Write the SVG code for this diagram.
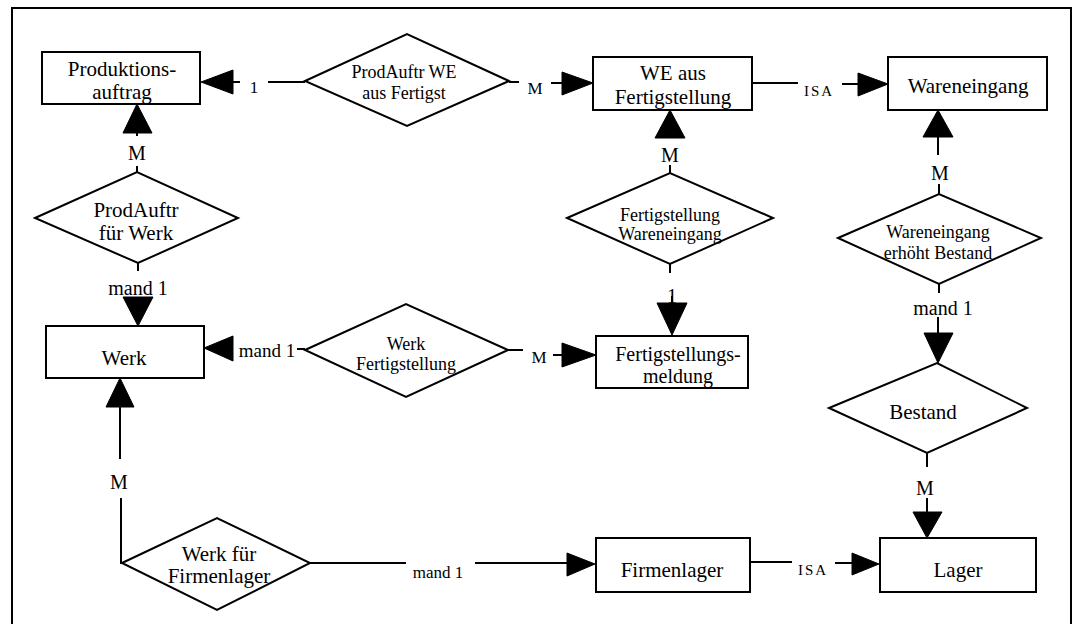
<svg xmlns="http://www.w3.org/2000/svg" width="1078" height="624" viewBox="0 0 1078 624" font-family="'Liberation Serif', serif">
  <style>
    .box { fill: #fff; stroke: #000; stroke-width: 2; }
    .rel { fill: #fff; stroke: #000; stroke-width: 2; }
    .ln { fill: none; stroke: #000; stroke-width: 2; }
    .ah { fill: #000; stroke: #000; stroke-width: 1; stroke-linejoin: miter; }
    text { font-family: 'Liberation Serif', serif; fill: #000; text-anchor: middle; }
    .en { font-size: 21px; }
    .rt { font-size: 18px; }
    .rb { font-size: 21px; }
    .card { font-size: 20px; }
    .cs { font-size: 17px; }
    .isa { font-size: 15px; letter-spacing: 2px; }
  </style>

  <rect x="12" y="8" width="1059" height="640" fill="#fff" stroke="#000" stroke-width="2"/>

  <g id="connectors">
    <!-- ProdAuftr WE aus Fertigst -> Produktionsauftrag (1) -->
    <line class="ln" x1="305" y1="82" x2="268" y2="82"/>
    <line class="ln" x1="240" y1="82" x2="232" y2="82"/>
    <polygon class="ah" points="201,82 233,70 233,94"/>
    <text class="cs" x="254" y="93">1</text>

    <!-- ProdAuftr WE aus Fertigst -> WE aus Fertigstellung (M) -->
    <line class="ln" x1="509" y1="82" x2="519" y2="82"/>
    <line class="ln" x1="551" y1="83" x2="563" y2="83"/>
    <polygon class="ah" points="593,83 562,72 562,95"/>
    <text class="cs" x="535" y="94">M</text>

    <!-- WE aus Fertigstellung ISA Wareneingang -->
    <line class="ln" x1="752" y1="83" x2="798" y2="83"/>
    <line class="ln" x1="842" y1="84" x2="859" y2="84"/>
    <polygon class="ah" points="888,84 858,73 858,96"/>
    <text class="isa" x="819" y="96">ISA</text>

    <!-- ProdAuftr fuer Werk -> Produktionsauftrag (M) -->
    <line class="ln" x1="137" y1="172" x2="137" y2="166"/>
    <line class="ln" x1="137" y1="136" x2="137" y2="132"/>
    <polygon class="ah" points="137,104 123,133 152,133"/>
    <text class="card" x="137" y="160">M</text>

    <!-- ProdAuftr fuer Werk -> Werk (mand 1) -->
    <line class="ln" x1="138" y1="263" x2="138" y2="271"/>
    <polygon class="ah" points="138,326 123,297 153,297"/>
    <text class="card" x="138" y="295">mand 1</text>

    <!-- Fertigstellung Wareneingang -> WE aus Fertigstellung (M) -->
    <line class="ln" x1="670" y1="173" x2="670" y2="165"/>
    <polygon class="ah" points="670,110 655,138 685,138"/>
    <text class="card" x="670" y="162">M</text>

    <!-- Fertigstellung Wareneingang -> Fertigstellungsmeldung (1) -->
    <line class="ln" x1="670" y1="264" x2="670" y2="273"/>
    <line class="ln" x1="672" y1="296" x2="672" y2="304"/>
    <polygon class="ah" points="672,335 657,303 687,303"/>
    <text class="card" x="672" y="303">1</text>

    <!-- Wareneingang erhoeht Bestand -> Wareneingang (M) -->
    <line class="ln" x1="939" y1="194" x2="939" y2="184"/>
    <line class="ln" x1="938" y1="155" x2="938" y2="136"/>
    <polygon class="ah" points="938,110 923,137 953,137"/>
    <text class="card" x="940" y="180">M</text>

    <!-- Wareneingang erhoeht Bestand -> Bestand (mand 1) -->
    <line class="ln" x1="939" y1="284" x2="939" y2="293"/>
    <line class="ln" x1="938" y1="317" x2="938" y2="334"/>
    <polygon class="ah" points="938,363 924,333 953,333"/>
    <text class="card" x="943" y="315">mand 1</text>

    <!-- Werk Fertigstellung -> Werk (mand 1) -->
    <line class="ln" x1="297" y1="349" x2="305" y2="349"/>
    <polygon class="ah" points="204,348 233,336 233,361"/>
    <text class="cs" x="267" y="357" style="font-size:19px">mand 1</text>

    <!-- Werk Fertigstellung -> Fertigstellungsmeldung (M) -->
    <line class="ln" x1="508" y1="350" x2="523" y2="350"/>
    <line class="ln" x1="553" y1="355" x2="564" y2="355"/>
    <polygon class="ah" points="596,355 562,343 562,367"/>
    <text class="cs" x="539" y="363">M</text>

    <!-- Werk fuer Firmenlager -> Werk (M) -->
    <polyline class="ln" points="122,563 121,563 121,498"/>
    <line class="ln" x1="120" y1="459" x2="120" y2="406"/>
    <polygon class="ah" points="120,378 106,407 134,407"/>
    <text class="card" x="119" y="489">M</text>

    <!-- Werk fuer Firmenlager -> Firmenlager (mand 1) -->
    <line class="ln" x1="310" y1="563" x2="406" y2="563"/>
    <line class="ln" x1="475" y1="563" x2="568" y2="563"/>
    <polygon class="ah" points="595,564 567,553 567,576"/>
    <text class="cs" x="438" y="578">mand 1</text>

    <!-- Firmenlager ISA Lager -->
    <line class="ln" x1="750" y1="562" x2="792" y2="562"/>
    <line class="ln" x1="835" y1="563" x2="853" y2="563"/>
    <polygon class="ah" points="879,564 852,553 852,575"/>
    <text class="isa" x="813" y="575">ISA</text>

    <!-- Bestand -> Lager (M) -->
    <line class="ln" x1="927" y1="453" x2="927" y2="467"/>
    <line class="ln" x1="927" y1="498" x2="927" y2="513"/>
    <polygon class="ah" points="927,538 913,512 942,512"/>
    <text class="card" x="925" y="495">M</text>
  </g>

  <!-- Entities -->
  <g id="produktionsauftrag">
    <rect class="box" x="42" y="52" width="158" height="52"/>
    <text class="en" x="122" y="76">Produktions-</text>
    <text class="en" x="122" y="99">auftrag</text>
  </g>
  <g id="we-aus-fertigstellung">
    <rect class="box" x="593" y="57" width="159" height="53"/>
    <text class="en" x="673" y="80">WE aus</text>
    <text class="en" x="673" y="104">Fertigstellung</text>
  </g>
  <g id="wareneingang">
    <rect class="box" x="888" y="57" width="159" height="53"/>
    <text class="en" x="968" y="93">Wareneingang</text>
  </g>
  <g id="werk">
    <rect class="box" x="46" y="326" width="158" height="52"/>
    <text class="en" x="124" y="365">Werk</text>
  </g>
  <g id="fertigstellungsmeldung">
    <rect class="box" x="596" y="336" width="152" height="52"/>
    <text class="en" x="678" y="361" style="font-size:20px">Fertigstellungs-</text>
    <text class="en" x="678" y="383" style="font-size:20px">meldung</text>
  </g>
  <g id="firmenlager">
    <rect class="box" x="596" y="538" width="154" height="54"/>
    <text class="en" x="672" y="577">Firmenlager</text>
  </g>
  <g id="lager">
    <rect class="box" x="880" y="538" width="156" height="54"/>
    <text class="en" x="958" y="577">Lager</text>
  </g>

  <!-- Relationships -->
  <g id="prodauftr-we-aus-fertigst">
    <polygon class="rel" points="305,81 407,34 509,81 407,126"/>
    <text class="rt" x="404" y="78">ProdAuftr WE</text>
    <text class="rt" x="404" y="99">aus Fertigst</text>
  </g>
  <g id="prodauftr-fuer-werk">
    <polygon class="rel" points="35,218 137,172 238,218 138,263"/>
    <text class="rb" x="136" y="217">ProdAuftr</text>
    <text class="rb" x="136" y="240">für Werk</text>
  </g>
  <g id="fertigstellung-wareneingang">
    <polygon class="rel" points="567,218 670,173 773,218 670,264"/>
    <text class="rt" x="670" y="221">Fertigstellung</text>
    <text class="rt" x="670" y="240">Wareneingang</text>
  </g>
  <g id="wareneingang-erhoeht-bestand">
    <polygon class="rel" points="838,238 939,194 1041,238 939,284"/>
    <text class="rt" x="938" y="238">Wareneingang</text>
    <text class="rt" x="938" y="259">erhöht Bestand</text>
  </g>
  <g id="werk-fertigstellung">
    <polygon class="rel" points="305,350 406,304 508,350 406,397"/>
    <text class="rt" x="406" y="350">Werk</text>
    <text class="rt" x="406" y="370">Fertigstellung</text>
  </g>
  <g id="bestand">
    <polygon class="rel" points="829,408 937,363 1027,408 927,453"/>
    <text class="rb" x="923" y="419">Bestand</text>
  </g>
  <g id="werk-fuer-firmenlager">
    <polygon class="rel" points="122,563 217,518 310,563 217,610"/>
    <text class="en" x="219" y="561">Werk für</text>
    <text class="en" x="219" y="583">Firmenlager</text>
  </g>
</svg>
